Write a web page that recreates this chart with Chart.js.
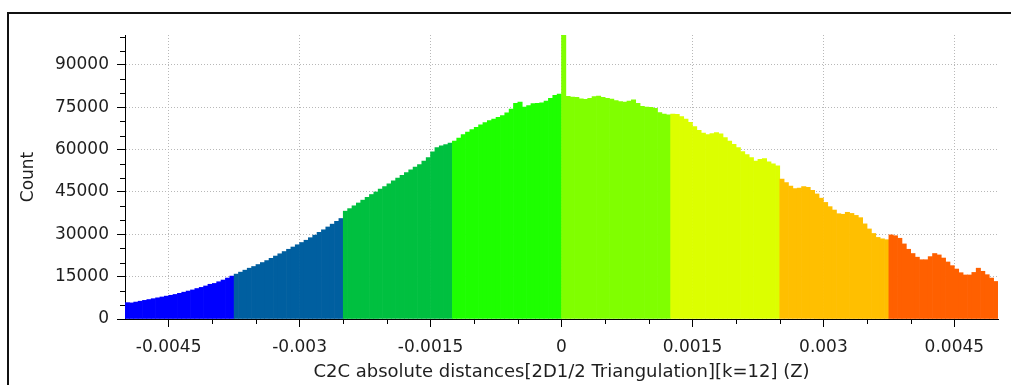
<!DOCTYPE html>
<html><head><meta charset="utf-8">
<script src="https://cdn.jsdelivr.net/npm/chart.js@4/dist/chart.umd.min.js"></script>
<style>
html,body{margin:0;padding:0;background:#fff;}
#wrap{position:relative;width:1011px;height:385px;overflow:hidden;background:#fff;}
#frame{position:absolute;left:7px;top:12px;width:1010px;height:380px;border-top:2px solid #111;border-left:2px solid #111;}
canvas{position:absolute;left:0;top:0;}
</style></head><body>
<div id="wrap"><canvas id="c" width="1011" height="385"></canvas><div id="frame"></div></div>
<script>
// ---- data (200 bins from -0.005 to 0.005) ----
const xMin = -0.005;
const xMax = 0.005;
const binWidth = 0.00005;
const counts = [
  5800, 5700, 6000, 6300, 6600, 6900, 7200, 7500, 7800, 8100,
  8400, 8700, 9100, 9500, 9900, 10300, 10800, 11200, 11700, 12300,
  12600, 13200, 13800, 14500, 15200,
  15900, 16600, 17300, 18000, 18600, 19300, 20000, 20700, 21500, 22300,
  23100, 23900, 24700, 25500, 26300, 27100, 27900, 28800, 29700, 30700,
  31600, 32600, 33600, 34600, 35600,
  38200, 39100, 40100, 41100, 42100, 43100, 44100, 45000, 46000, 46900,
  47900, 48900, 49900, 50900, 51900, 52800, 53800, 54700, 55900, 57200,
  59200, 60700, 61300, 61800, 62300,
  63000, 64100, 65300, 66200, 67100, 67900, 68800, 69600, 70300, 70800,
  71400, 72100, 73000, 74400, 76400, 76800, 75100, 75600, 76300, 76400,
  76600, 77200, 78200, 79200, 79700,
  100600, 78900, 78600, 78500, 78000, 77800, 78200, 78800, 79000, 78500,
  78200, 77900, 77400, 77000, 76800, 77200, 77600, 76400, 75300, 75100,
  75000, 74600, 73100, 72600, 72300,
  72600, 72500, 71700, 70800, 69700, 68200, 66800, 65900, 65300, 65700,
  66000, 65600, 64300, 63000, 61900, 60700, 59300, 58200, 57200, 55900,
  56600, 56800, 55700, 55000, 54300,
  49600, 48300, 47100, 46200, 46400, 46900, 46600, 45600, 44300, 42800,
  41300, 39800, 38600, 37300, 37100, 37800, 37400, 36700, 35900, 33700,
  31900, 30300, 28900, 28400, 28100,
  29800, 29500, 28600, 26600, 24700, 23200, 21900, 21000, 21000, 22100,
  23200, 22700, 21600, 20200, 18900, 17700, 16400, 15600, 15600, 16500,
  18000, 16900, 15700, 14500, 13300
];
const bandEdges = [-0.005, -0.00375, -0.0025, -0.00125, 0, 0.00125, 0.0025, 0.00375, 0.005];
const bandColors = ['#0000ff', '#005fa0', '#00c040', '#1eff00', '#80ff00', '#dcff00', '#ffbf00', '#ff6000'];
const xMajorTicks = [-0.0045, -0.003, -0.0015, 0, 0.0015, 0.003, 0.0045];
const xTickLabels = ['-0.0045', '-0.003', '-0.0015', '0', '0.0015', '0.003', '0.0045'];
const xMinorTicks = [-0.004, -0.0035, -0.0025, -0.002, -0.001, -0.0005, 0.0005, 0.001, 0.002, 0.0025, 0.0035, 0.004];
const yMax = 100600;
const yMajorTicks = [0, 15000, 30000, 45000, 60000, 75000, 90000];
const yTickLabels = ['0', '15000', '30000', '45000', '60000', '75000', '90000'];
const yMinorTicks = [5000, 10000, 20000, 25000, 35000, 40000, 50000, 55000, 65000, 70000, 80000, 85000, 95000, 100000];
const xTitle = 'C2C absolute distances[2D1/2 Triangulation][k=12] (Z)';
const yTitle = 'Count';

const points = counts.map((v, i) => ({ x: xMin + (i + 0.5) * binWidth, y: v }));
function colorFor(x) {
  for (let k = 0; k < bandColors.length; k++) {
    if (x < bandEdges[k + 1]) return bandColors[k];
  }
  return bandColors[bandColors.length - 1];
}

Chart.defaults.font.family = "'DejaVu Sans', Verdana, sans-serif";
Chart.defaults.font.size = 17;
Chart.defaults.color = '#1e1e1e';

const minorTickPlugin = {
  id: 'minorTicks',
  afterDraw(chart) {
    const { ctx } = chart;
    const xs = chart.scales.x, ys = chart.scales.y;
    ctx.save();
    ctx.strokeStyle = '#000';
    ctx.lineWidth = 1;
    ctx.beginPath();
    xMinorTicks.forEach(v => {
      const px = Math.round(xs.getPixelForValue(v)) + 0.5;
      ctx.moveTo(px, xs.top);
      ctx.lineTo(px, xs.top + 5);
    });
    yMinorTicks.forEach(v => {
      const py = Math.round(ys.getPixelForValue(v)) + 0.5;
      ctx.moveTo(ys.right - 5, py);
      ctx.lineTo(ys.right, py);
    });
    ctx.stroke();
    ctx.restore();
  }
};

new Chart(document.getElementById('c'), {
  type: 'bar',
  data: {
    datasets: [{
      data: points,
      backgroundColor: ctx => colorFor(points[ctx.dataIndex].x),
      borderWidth: 0,
      barPercentage: 1,
      categoryPercentage: 1
    }]
  },
  options: {
    responsive: false,
    animation: false,
    layout: { padding: { top: 35, right: 13, left: 0, bottom: 0 } },
    plugins: { legend: { display: false }, tooltip: { enabled: false } },
    scales: {
      x: {
        type: 'linear',
        min: xMin,
        max: xMax,
        offset: false,
        afterBuildTicks: s => { s.ticks = xMajorTicks.map(v => ({ value: v })); },
        afterFit: s => { s.height = 66; },
        ticks: {
          autoSkip: false,
          maxRotation: 0,
          padding: 10,
          color: '#1e1e1e',
          callback: (v, i) => xTickLabels[i]
        },
        grid: {
          offset: false,
          color: '#b8b8b8',
          tickColor: '#000',
          tickLength: 8,
          lineWidth: 1
        },
        border: { display: true, color: '#000', width: 1, dash: [1, 2] },
        title: {
          display: true,
          text: xTitle,
          color: '#1e1e1e',
          font: { size: 18 },
          padding: { top: 0, bottom: 2 }
        }
      },
      y: {
        type: 'linear',
        min: 0,
        max: yMax,
        afterBuildTicks: s => { s.ticks = yMajorTicks.map(v => ({ value: v })); },
        afterFit: s => { s.width = 125; },
        ticks: {
          autoSkip: false,
          padding: 8,
          color: '#1e1e1e',
          callback: (v, i) => yTickLabels[i]
        },
        grid: {
          color: '#b8b8b8',
          tickColor: '#000',
          tickLength: 8,
          lineWidth: 1
        },
        border: { display: true, color: '#000', width: 1, dash: [1, 2] },
        title: {
          display: true,
          text: yTitle,
          color: '#1e1e1e',
          font: { size: 17 },
          padding: { top: 18, bottom: 0 }
        }
      }
    }
  },
  plugins: [minorTickPlugin]
});
</script>
</body></html>
